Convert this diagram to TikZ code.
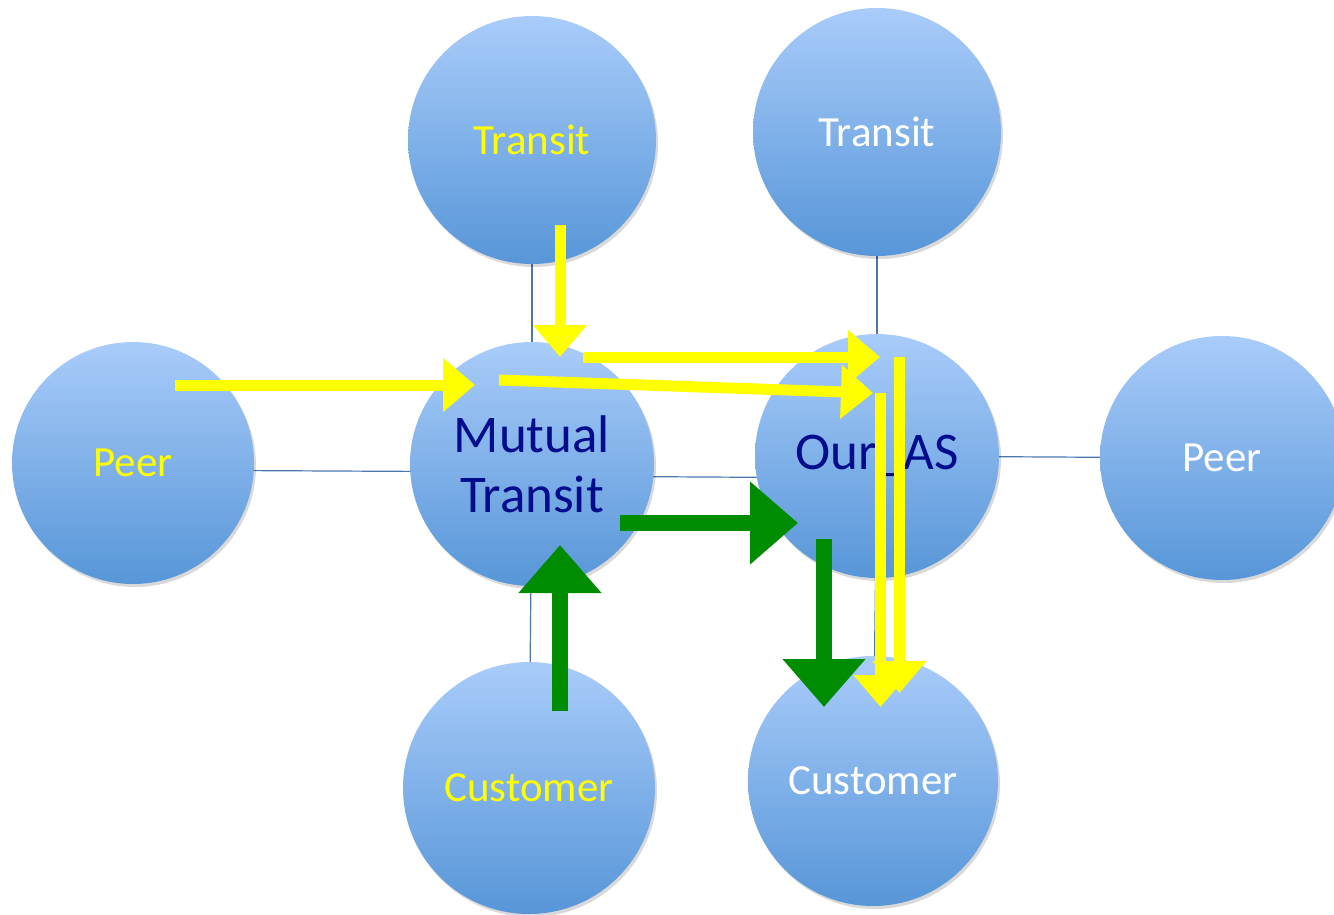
\documentclass[tikz,border=0pt]{standalone}
\usepackage{fontspec}
\setmainfont{Carlito}
\usetikzlibrary{arrows.meta,shadows,backgrounds}
\definecolor{ylw}{HTML}{FFFF00}
\definecolor{grn}{HTML}{008C00}
\definecolor{navy}{HTML}{000C8C}
\definecolor{ctop}{HTML}{A9CCFA}
\definecolor{cbot}{HTML}{5796D8}
\definecolor{lnk}{HTML}{4A78AE}
\tikzset{
  asnode/.style={circle, inner sep=0pt, minimum size=#1, top color=ctop, bottom color=cbot,
    draw=none, drop shadow={shadow xshift=2pt, shadow yshift=-3pt, opacity=0.15, fill=black}},
  lbl/.style={font=\fontsize{43}{50}\selectfont},
  big/.style={font=\fontsize{53}{60}\selectfont, text=navy, align=center},
  link/.style={draw=lnk, line width=1.2pt},
  yarr/.style={draw=ylw, line width=11pt, -{Triangle[width=52pt,length=32pt]}},
  garr/.style={draw=grn, line width=16pt, -{Triangle[width=80pt,length=48pt]}}
}
\begin{document}
\begin{tikzpicture}[x=1pt,y=-1pt]
\useasboundingbox (0,0) rectangle (1334,915);
% nodes
\node[asnode=248pt, lbl, text=ylw] (tl) at (532,140) {Transit};
\node[asnode=248pt, lbl, text=white] (tr) at (877,132) {Transit};
\node[asnode=242pt, lbl, text=ylw] (peerL) at (133,463) {Peer};
\node[asnode=244pt, big] (mutual) at (532,464) {Mutual\\Transit};
\node[asnode=244pt, big] (our) at (877,456) {Our\_AS};
\node[asnode=244pt, lbl, text=white] (peerR) at (1222,458) {Peer};
\node[asnode=252pt, lbl, text=ylw] (custL) at (529,788) {Customer};
\node[asnode=250pt, lbl, text=white] (custR) at (873,781) {Customer};
% links
\begin{scope}[on background layer]
\draw[link] (tl.center) -- (mutual.center);
\draw[link] (tr.center) -- (our.center);
\draw[link] ([yshift=-7pt]peerL.center) -- ([yshift=-8pt]mutual.center);
\draw[link] ([yshift=-12pt]mutual.center) -- ([yshift=-22pt]our.center);
\draw[link] (our.center) -- (peerR.center);
\draw[link] (our.center) -- (custR.center);
\draw[link] (mutual.center) -- (custL.center);
\end{scope}
% arrow end points
\coordinate (g1s) at (620,523); \coordinate (g1e) at (798,523);
\coordinate (g2s) at (824,539); \coordinate (g2e) at (824,707);
\coordinate (g3s) at (560,711); \coordinate (g3e) at (560,545);
\coordinate (y1s) at (175,385); \coordinate (y1e) at (475,385);
\coordinate (y2s) at (560,225); \coordinate (y2e) at (560,357);
\coordinate (y3s) at (583,357); \coordinate (y3e) at (880,357);
\coordinate (y4s) at (499,380); \coordinate (y4e) at (873,393);
\coordinate (y5s) at (899.5,357); \coordinate (y5e) at (899.5,693);
\coordinate (y6s) at (880.5,393); \coordinate (y6e) at (880.5,707);
% green arrows
\draw[garr] (g1s) -- (g1e);
\draw[garr] (g2s) -- (g2e);
\draw[garr] (g3s) -- (g3e);
% yellow arrows
\draw[yarr] (y1s) -- (y1e);
\draw[yarr] (y2s) -- (y2e);
\draw[yarr] (y4s) -- (y4e);
\draw[yarr] (y3s) -- (y3e);
\draw[yarr] (y5s) -- (y5e);
\draw[yarr] (y6s) -- (y6e);
\end{tikzpicture}
\end{document}
